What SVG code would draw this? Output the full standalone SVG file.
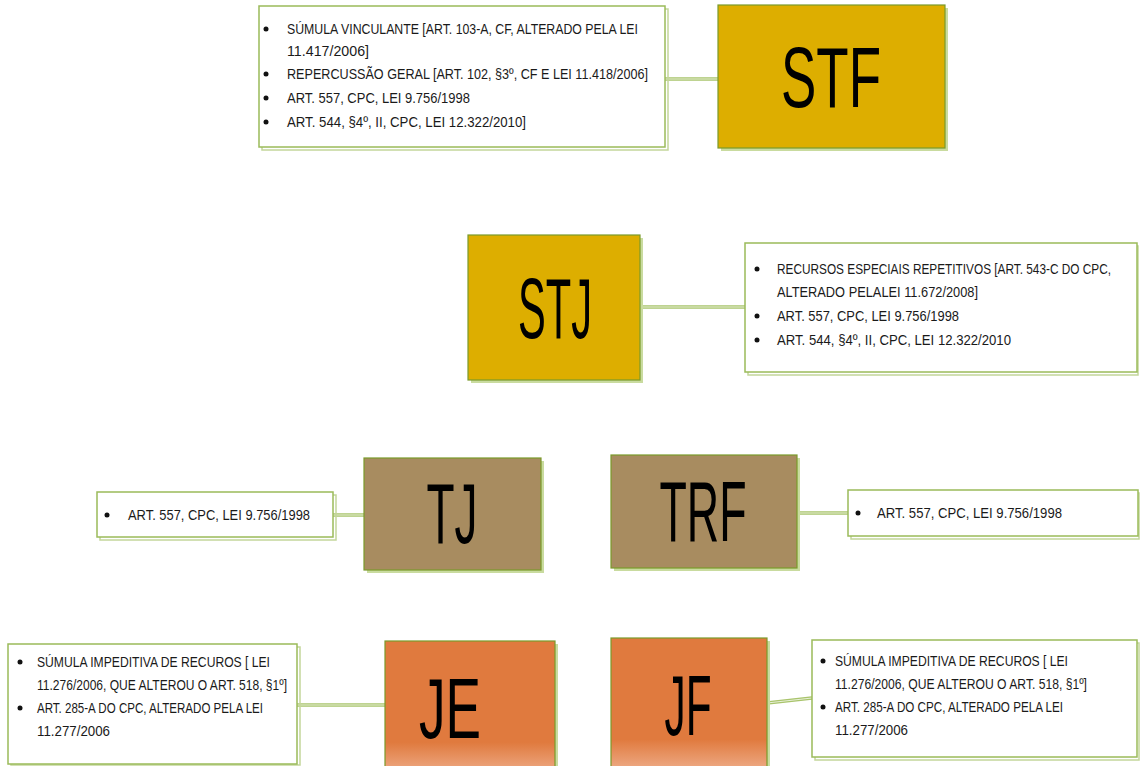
<svg xmlns="http://www.w3.org/2000/svg" width="1141" height="766" viewBox="0 0 1141 766">
<defs>
<style>
.node{stroke:#7a9a2a;stroke-width:1.2}
.shadow{fill:#c9db9f;stroke:none}
.box{fill:#ffffff;stroke:#9bbb59;stroke-width:1.5}
.boxsh{fill:none;stroke:#c3d69b;stroke-width:1.5}
.gold{fill:#ddae00}
.tan{fill:#a88c60}
.big{font-family:"Liberation Sans Narrow","Liberation Sans",Arial,sans-serif;font-size:86px;fill:#000;text-anchor:middle}
.t{font-family:"Liberation Sans Narrow","Liberation Sans",Arial,sans-serif;font-size:14.5px;fill:#1a1a1a}
.conn{stroke:#a9c46c;stroke-width:3.5;fill:none}
.connin{stroke:#e8f0d8;stroke-width:1;fill:none}
.b{fill:#111}
</style>
<linearGradient id="og" x1="0" y1="0" x2="0" y2="1">
<stop offset="0" stop-color="#e07a3e"/>
<stop offset="0.78" stop-color="#e07a3e"/>
<stop offset="1" stop-color="#eda882"/>
</linearGradient>
</defs>
<rect width="1141" height="766" fill="#ffffff"/>

<g id="connectors">
<line class="conn" x1="665" y1="79" x2="718" y2="79"/><line class="connin" x1="665" y1="79" x2="718" y2="79"/>
<line class="conn" x1="640" y1="307" x2="745" y2="307"/><line class="connin" x1="640" y1="307" x2="745" y2="307"/>
<line class="conn" x1="333" y1="515" x2="364" y2="515"/><line class="connin" x1="333" y1="515" x2="364" y2="515"/>
<line class="conn" x1="797" y1="513" x2="848" y2="513"/><line class="connin" x1="797" y1="513" x2="848" y2="513"/>
<line class="conn" x1="297" y1="705" x2="385" y2="705"/><line class="connin" x1="297" y1="705" x2="385" y2="705"/>
<line class="conn" x1="767" y1="703" x2="812" y2="698"/><line class="connin" x1="767" y1="703" x2="812" y2="698"/>
</g>

<g id="stf">
<rect class="shadow" x="721" y="8" width="227" height="143"/>
<rect class="node gold" x="718" y="5" width="227" height="143"/>
<text class="big" x="831" y="107" textLength="100" lengthAdjust="spacingAndGlyphs">STF</text>
</g>
<g id="stf-notes">
<rect class="boxsh" x="262" y="9" width="406" height="141"/>
<rect class="box" x="259" y="6" width="406" height="141"/>
<circle class="b" cx="266" cy="29" r="2.5"/><circle class="b" cx="266" cy="74" r="2.5"/><circle class="b" cx="266" cy="98" r="2.5"/><circle class="b" cx="266" cy="122" r="2.5"/>
<text class="t" x="287" y="34" textLength="351" lengthAdjust="spacingAndGlyphs">SÚMULA VINCULANTE [ART. 103-A, CF, ALTERADO PELA LEI</text>
<text class="t" x="287" y="56" textLength="82" lengthAdjust="spacingAndGlyphs">11.417/2006]</text>
<text class="t" x="287" y="79" textLength="361" lengthAdjust="spacingAndGlyphs">REPERCUSSÃO GERAL [ART. 102, §3º, CF E LEI 11.418/2006]</text>
<text class="t" x="287" y="103" textLength="183" lengthAdjust="spacingAndGlyphs">ART. 557, CPC, LEI 9.756/1998</text>
<text class="t" x="287" y="127" textLength="239" lengthAdjust="spacingAndGlyphs">ART. 544, §4º, II, CPC, LEI 12.322/2010]</text>
</g>

<g id="stj">
<rect class="shadow" x="471" y="238" width="172" height="145"/>
<rect class="node gold" x="468" y="235" width="172" height="145"/>
<text class="big" x="555" y="338" textLength="74" lengthAdjust="spacingAndGlyphs">STJ</text>
</g>
<g id="stj-notes">
<rect class="boxsh" x="748" y="246" width="390" height="129"/>
<rect class="box" x="745" y="243" width="392" height="129"/>
<circle class="b" cx="757" cy="269" r="2.5"/><circle class="b" cx="757" cy="316" r="2.5"/><circle class="b" cx="757" cy="340" r="2.5"/>
<text class="t" x="777" y="274" textLength="334" lengthAdjust="spacingAndGlyphs">RECURSOS ESPECIAIS REPETITIVOS [ART. 543-C DO CPC,</text>
<text class="t" x="777" y="297" textLength="201" lengthAdjust="spacingAndGlyphs">ALTERADO PELALEI 11.672/2008]</text>
<text class="t" x="777" y="321" textLength="182" lengthAdjust="spacingAndGlyphs">ART. 557, CPC, LEI 9.756/1998</text>
<text class="t" x="777" y="345" textLength="234" lengthAdjust="spacingAndGlyphs">ART. 544, §4º, II, CPC, LEI 12.322/2010</text>
</g>

<g id="tj">
<rect class="shadow" x="367" y="461" width="177" height="112"/>
<rect class="node tan" x="364" y="458" width="177" height="112"/>
<text class="big" x="452" y="543" textLength="51" lengthAdjust="spacingAndGlyphs">TJ</text>
</g>
<g id="tj-notes">
<rect class="boxsh" x="100" y="495" width="236" height="45"/>
<rect class="box" x="97" y="492" width="236" height="45"/>
<circle class="b" cx="107" cy="515" r="2.5"/>
<text class="t" x="128" y="520" textLength="182" lengthAdjust="spacingAndGlyphs">ART. 557, CPC, LEI 9.756/1998</text>
</g>

<g id="trf">
<rect class="shadow" x="614" y="458" width="186" height="113"/>
<rect class="node tan" x="611" y="455" width="186" height="113"/>
<text class="big" x="703" y="541" textLength="87" lengthAdjust="spacingAndGlyphs">TRF</text>
</g>
<g id="trf-notes">
<rect class="boxsh" x="851" y="493" width="288" height="46"/>
<rect class="box" x="848" y="490" width="290" height="46"/>
<circle class="b" cx="858" cy="513" r="2.5"/>
<text class="t" x="877" y="518" textLength="185" lengthAdjust="spacingAndGlyphs">ART. 557, CPC, LEI 9.756/1998</text>
</g>

<g id="je">
<rect class="shadow" x="388" y="644" width="170" height="130"/>
<rect class="node" fill="url(#og)" x="385" y="641" width="170" height="130"/>
<text class="big" x="450" y="738" textLength="62" lengthAdjust="spacingAndGlyphs">JE</text>
</g>
<g id="je-notes">
<rect class="boxsh" x="11" y="647" width="289" height="118"/>
<rect class="box" x="8" y="644" width="289" height="120"/>
<circle class="b" cx="20" cy="662" r="2.5"/><circle class="b" cx="20" cy="708" r="2.5"/>
<text class="t" x="37" y="667" textLength="233" lengthAdjust="spacingAndGlyphs">SÚMULA IMPEDITIVA DE RECUROS [ LEI</text>
<text class="t" x="37" y="690" textLength="250" lengthAdjust="spacingAndGlyphs">11.276/2006, QUE ALTEROU O ART. 518, §1º]</text>
<text class="t" x="37" y="713" textLength="226" lengthAdjust="spacingAndGlyphs">ART. 285-A DO CPC, ALTERADO PELA  LEI</text>
<text class="t" x="37" y="736" textLength="73" lengthAdjust="spacingAndGlyphs">11.277/2006</text>
</g>

<g id="jf">
<rect class="shadow" x="614" y="641" width="156" height="130"/>
<rect class="node" fill="url(#og)" x="611" y="638" width="156" height="130"/>
<text class="big" x="688" y="735" textLength="47" lengthAdjust="spacingAndGlyphs">JF</text>
</g>
<g id="jf-notes">
<rect class="boxsh" x="815" y="643" width="324" height="117"/>
<rect class="box" x="812" y="640" width="325" height="117"/>
<circle class="b" cx="823" cy="661" r="2.5"/><circle class="b" cx="823" cy="707" r="2.5"/>
<text class="t" x="835" y="666" textLength="233" lengthAdjust="spacingAndGlyphs">SÚMULA IMPEDITIVA DE RECUROS [ LEI</text>
<text class="t" x="835" y="689" textLength="252" lengthAdjust="spacingAndGlyphs">11.276/2006, QUE ALTEROU O ART. 518, §1º]</text>
<text class="t" x="835" y="712" textLength="228" lengthAdjust="spacingAndGlyphs">ART. 285-A DO CPC, ALTERADO PELA  LEI</text>
<text class="t" x="835" y="735" textLength="73" lengthAdjust="spacingAndGlyphs">11.277/2006</text>
</g>
</svg>
